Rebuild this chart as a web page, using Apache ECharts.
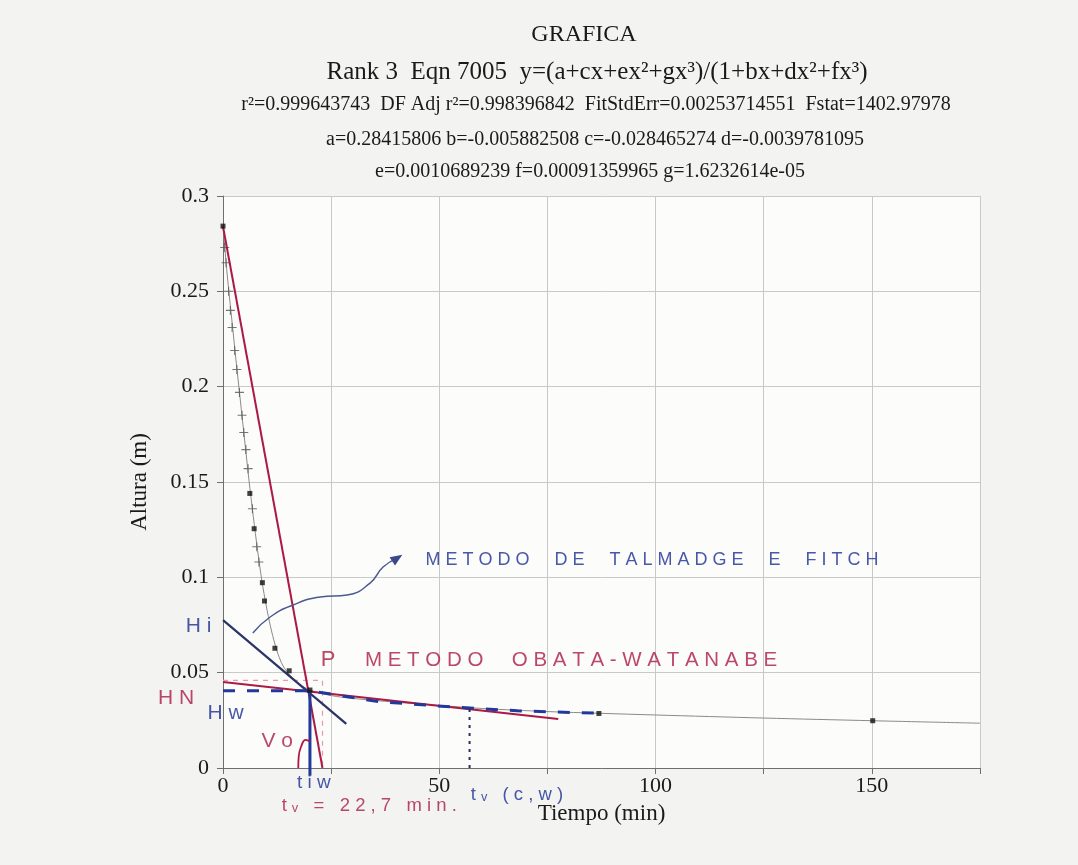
<!DOCTYPE html>
<html>
<head>
<meta charset="utf-8">
<script src="https://cdn.jsdelivr.net/npm/echarts@6/dist/echarts.min.js"></script>
<style>
  html, body { margin: 0; padding: 0; background: #f3f3f1; }
  #chart { width: 1078px; height: 865px; }
</style>
</head>
<body>
<div id="chart"></div>
<script>
// Measured samples: time (min), water height (m)
const dataPoints = [
  [0, 0.2842], [6.2, 0.1440], [7.2, 0.1255], [9.1, 0.0972], [9.6, 0.0876],
  [12.0, 0.0628], [15.3, 0.0510], [20.1, 0.0409], [86.9, 0.0286], [150.2, 0.0248]
];
// Intermediate readings shown with "+" markers
const plusPoints = [
  [0.4, 0.273], [0.7, 0.265], [1.3, 0.250], [1.7, 0.240], [2.1, 0.231], [2.7, 0.219],
  [3.2, 0.209], [3.8, 0.197], [4.4, 0.185], [4.8, 0.176], [5.3, 0.167], [5.8, 0.157],
  [6.8, 0.136], [7.8, 0.116], [8.3, 0.108]
];
// Fitted curve (rational function, rank 3 / eqn 7005)
const fitCurve = [
  [0, 0.284], [1, 0.258], [2, 0.236], [3, 0.214], [4, 0.193], [5, 0.172], [6, 0.151],
  [7, 0.132], [8, 0.114], [9, 0.098], [10, 0.085], [11, 0.074], [12, 0.065], [13, 0.058],
  [14, 0.053], [15, 0.050], [17, 0.045], [20, 0.041], [25, 0.038], [30, 0.0365],
  [40, 0.0345], [50, 0.0328], [60, 0.0312], [75, 0.0296], [87, 0.0287], [100, 0.0278],
  [125, 0.0262], [150, 0.0248], [175, 0.0235]
];

// Hand-drawn construction lines
const obataSteep = [[0, 0.284], [23, 0]];
const obataFlat = [[0, 0.0451], [77.5, 0.0257]];
const obataGuide = [[0, 0.046], [23, 0.046], [23, 0]];
const talmadgeLine = [[0, 0.0776], [28.5, 0.0231]];
const hwDashed = [[0, 0.0405], [20.1, 0.0405], [36, 0.0348], [53, 0.032], [68, 0.030], [87, 0.0287]];
const tiwLine = [[20.1, 0.0405], [20.1, -0.004]];
const tvcwLine = [[57, 0.031], [57, 0]];
const voArc = [[17.4, 0], [17.5, 0.006], [18.1, 0.0115], [19.1, 0.0148], [20.2, 0.0138]];
const arrowPath = [[6.9, 0.0708], [10.9, 0.0792], [16.2, 0.0855], [22.5, 0.0897], [28.7, 0.0907],
                   [34.0, 0.0970], [37.0, 0.1054], [40.3, 0.1101]];

// Handwritten notes: [time, height, text, font size]
const blueNotes = [
  [46.8, 0.109, 'METODO  DE  TALMADGE  E  FITCH', 18],
  [-8.6, 0.0745, 'Hi', 21],
  [-3.6, 0.0290, 'Hw', 21],
  [17.1, -0.0080, 'tiw', 19],
  [57.3, -0.0140, 'tᵥ (c,w)', 18.5]
];
const redNotes = [
  [32.8, 0.0566, 'METODO  OBATA-WATANABE', 20.5],
  [22.6, 0.0566, 'P', 22],
  [-15.0, 0.0365, 'HN', 21],
  [8.9, 0.0140, 'Vo', 21],
  [13.6, -0.0200, 'tᵥ = 22,7 min.', 18.5]
];

const xTicks = [0, 50, 100, 150];
const yTickLabels = { 0: '0', 0.05: '0.05', 0.1: '0.1', 0.15: '0.15', 0.2: '0.2', 0.25: '0.25', 0.3: '0.3' };

const RED = '#ab1a44';
const NAVY = '#2b3466';
const BLUE = '#1a2e92';
const SERIF = '"Liberation Serif", "DejaVu Serif", serif';
const HAND = '"Liberation Sans", "DejaVu Sans", sans-serif';

// penned capitals sit apart from each other
function spread(s) { return s.split('').join(' '); }

function lineSeries(data, color, width, type, extra) {
  return Object.assign({
    type: 'line', data: data, symbol: 'none', silent: true, clip: false,
    lineStyle: { color: color, width: width, type: type || 'solid' },
    z: 4
  }, extra || {});
}

function noteSeries(notes, color) {
  return {
    type: 'scatter', silent: true, clip: false, symbolSize: 0, z: 6,
    data: notes.map(n => ({
      value: [n[0], n[1]], name: n[2],
      label: { fontSize: n[3] }
    })),
    label: {
      show: true, position: 'right', distance: 0,
      formatter: p => spread(p.name),
      color: color, fontFamily: HAND
    }
  };
}

const chart = echarts.init(document.getElementById('chart'), null, { renderer: 'canvas' });

const titles = [
  { text: 'GRAFICA', left: 579, top: 18, size: 24 },
  { text: 'Rank 3  Eqn 7005  y=(a+cx+ex²+gx³)/(1+bx+dx²+fx³)', left: 592, top: 55, size: 25 },
  { text: 'r²=0.999643743  DF Adj r²=0.998396842  FitStdErr=0.00253714551  Fstat=1402.97978', left: 591, top: 90, size: 20 },
  { text: 'a=0.28415806 b=-0.005882508 c=-0.028465274 d=-0.0039781095', left: 590, top: 125, size: 20 },
  { text: 'e=0.0010689239 f=0.00091359965 g=1.6232614e-05', left: 585, top: 157, size: 20 }
];

chart.setOption({
  backgroundColor: 'transparent',
  animation: false,
  title: titles.map(t => ({
    text: t.text, left: t.left, top: t.top, textAlign: 'center',
    textStyle: { fontFamily: SERIF, fontSize: t.size, fontWeight: 'normal', color: '#1a1a1a' }
  })),
  grid: { left: 223, right: 98, top: 196, bottom: 97, show: true, backgroundColor: '#fcfcfb', borderWidth: 0 },
  xAxis: {
    type: 'value', min: 0, max: 175, interval: 25,
    name: 'Tiempo (min)', nameLocation: 'middle', nameGap: 34,
    nameTextStyle: { fontFamily: SERIF, fontSize: 23, color: '#1a1a1a' },
    axisLine: { show: true, lineStyle: { color: '#6f6f6f', width: 1 } },
    axisTick: { show: true, length: 6, lineStyle: { color: '#6f6f6f' } },
    axisLabel: {
      fontFamily: SERIF, fontSize: 22, color: '#1a1a1a', margin: 7,
      formatter: v => (xTicks.indexOf(v) >= 0 ? String(v) : '')
    },
    splitLine: { show: true, lineStyle: { color: '#c9c9c9', width: 1 } }
  },
  yAxis: {
    type: 'value', min: 0, max: 0.3, interval: 0.05,
    name: 'Altura (m)', nameLocation: 'middle', nameGap: 72, nameRotate: 90,
    nameTextStyle: { fontFamily: SERIF, fontSize: 23, color: '#1a1a1a' },
    axisLine: { show: true, lineStyle: { color: '#6f6f6f', width: 1 } },
    axisTick: { show: true, length: 6, lineStyle: { color: '#6f6f6f' } },
    axisLabel: {
      fontFamily: SERIF, fontSize: 22, color: '#1a1a1a', margin: 14,
      formatter: v => yTickLabels[Math.round(v * 100) / 100] || ''
    },
    splitLine: { show: true, lineStyle: { color: '#c9c9c9', width: 1 } }
  },
  series: [
    lineSeries(fitCurve, '#8a8a8a', 1, 'solid', { smooth: 0.3, z: 2 }),
    {
      type: 'scatter', data: plusPoints, silent: true, z: 3,
      symbol: 'path://M4.4,0H5.6V4.4H10V5.6H5.6V10H4.4V5.6H0V4.4H4.4Z',
      symbolSize: 9, itemStyle: { color: '#555' }
    },
    {
      type: 'scatter', data: dataPoints, silent: true, z: 5,
      symbol: 'rect', symbolSize: 5, itemStyle: { color: '#111' }
    },
    lineSeries(obataGuide, '#e79aa8', 1.2, [5, 5]),
    lineSeries(obataSteep, RED, 2),
    lineSeries(obataFlat, RED, 2),
    lineSeries(talmadgeLine, NAVY, 2.2),
    lineSeries(hwDashed, '#22399c', 3, [12, 12]),
    lineSeries(tiwLine, '#22399c', 3),
    lineSeries(tvcwLine, '#2a2f5a', 2, [3, 5]),
    lineSeries(voArc, RED, 1.8, 'solid', { smooth: true }),
    lineSeries(arrowPath.map((p, i) => i === arrowPath.length - 1
      ? { value: p, symbol: 'triangle', symbolSize: [10, 12], symbolRotate: -57, itemStyle: { color: '#3b4a86' } }
      : p), '#4a5a8e', 1.5, 'solid', { smooth: true, showSymbol: true }),
    noteSeries(blueNotes, BLUE),
    noteSeries(redNotes, RED)
  ]
});
</script>
</body>
</html>
